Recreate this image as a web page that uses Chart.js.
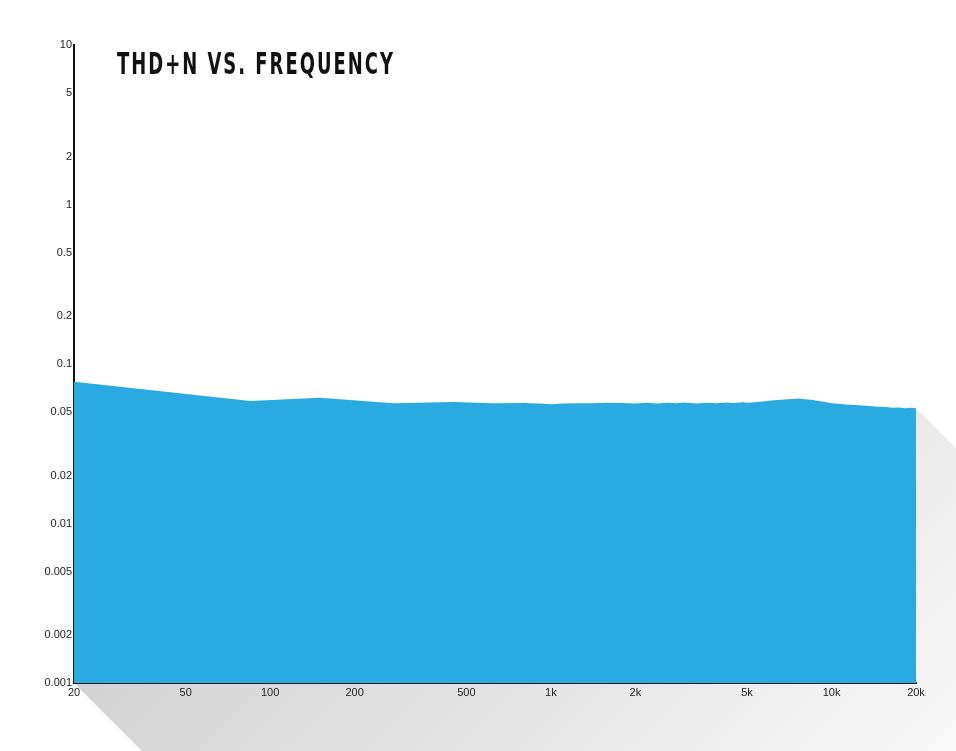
<!DOCTYPE html>
<html lang="en">
<head>
<meta charset="UTF-8" />
<title>THD+N vs. Frequency</title>
<script src="https://cdn.jsdelivr.net/npm/chart.js@4.4.0/dist/chart.umd.min.js"></script>
<style>
html,body{margin:0;padding:0;background:#fff}
#wrap{position:relative;width:956px;height:751px;overflow:hidden}
#title{position:absolute;left:117px;top:46px;margin:0;white-space:nowrap;
  font-family:"DejaVu Sans Condensed","DejaVu Sans",sans-serif;font-weight:bold;
  font-size:30px;letter-spacing:3px;color:#111;transform:scaleX(.665);transform-origin:left top}
canvas{position:absolute;left:0;top:0}
</style>
</head>
<body>
<div id="wrap">
  <canvas id="thd" width="956" height="751"></canvas>
  <h1 id="title">THD+N VS. FREQUENCY</h1>
</div>
<script>
/* ---------- data ---------- */
const FREQ = [20, 85, 150, 275, 450, 620, 800, 900, 1000, 1100, 1250, 1400, 1600, 1800,
  2000, 2200, 2400, 2600, 2800, 3000, 3300, 3600, 3900, 4200, 4500, 4800, 5100, 5400,
  5700, 6000, 6400, 6800, 7200, 7600, 8000, 8500, 9000, 9500, 10000, 10600, 11200, 11800,
  12500, 13300, 14000, 14800, 15600, 16500, 17400, 18300, 19200, 20000];
const THDN = [0.0775, 0.0586, 0.0615, 0.0567, 0.0578, 0.0568, 0.0570, 0.0566, 0.0559, 0.0566,
  0.0568, 0.0567, 0.0572, 0.0570, 0.0566, 0.0571, 0.0565, 0.0572, 0.0567, 0.0573, 0.0566,
  0.0571, 0.0568, 0.0574, 0.0569, 0.0575, 0.0572, 0.0578, 0.0583, 0.0588, 0.0594, 0.0599,
  0.0604, 0.0607, 0.0602, 0.0596, 0.0586, 0.0577, 0.0568, 0.0563, 0.0558, 0.0556, 0.0551,
  0.0547, 0.0543, 0.0540, 0.0537, 0.0531, 0.0534, 0.0527, 0.0531, 0.0528];

const X_TICKS  = [20, 50, 100, 200, 500, 1000, 2000, 5000, 10000, 20000];
const X_LABELS = ['20','50','100','200','500','1k','2k','5k','10k','20k'];
const Y_TICKS  = [0.001, 0.002, 0.005, 0.01, 0.02, 0.05, 0.1, 0.2, 0.5, 1, 2, 5, 10];
const Y_LABELS = ['0.001','0.002','0.005','0.01','0.02','0.05','0.1','0.2','0.5','1','2','5','10'];

/* ---------- long grey shadow behind the plot ---------- */
const shadow = {
  id:'shadow',
  beforeDraw(chart){
    const {ctx, chartArea:a} = chart;
    const pts = chart.getDatasetMeta(0).data;
    const yr = pts[pts.length-1].y, L = 900;
    // brightness grows along the shadow direction (down-right)
    const g = ctx.createLinearGradient(a.left, a.bottom, a.left+480, a.bottom+480);
    g.addColorStop(0, '#d2d2d2');
    g.addColorStop(1, '#f9f9f9');
    ctx.save();
    ctx.fillStyle = g;
    ctx.beginPath();
    ctx.moveTo(a.left, a.bottom);
    ctx.lineTo(a.left+L, a.bottom+L);
    ctx.lineTo(a.right+L, yr+L);
    ctx.lineTo(a.right, yr);
    ctx.closePath();
    ctx.fill();
    ctx.restore();
  }
};

const tickFont = {family:'"Liberation Sans", Arial, sans-serif', size:11};

new Chart(document.getElementById('thd'), {
  type:'line',
  data:{datasets:[{
    data:FREQ.map((f,i)=>({x:f, y:THDN[i]})),
    backgroundColor:'#29abe2', borderWidth:0, pointRadius:0, tension:0, fill:'start'
  }]},
  options:{
    responsive:false, animation:false, events:[],
    layout:{padding:{top:45, right:40, left:0, bottom:0}},
    plugins:{legend:{display:false}, tooltip:{enabled:false}},
    scales:{
      x:{
        type:'logarithmic', min:20, max:20000,
        afterBuildTicks:s=>{s.ticks = X_TICKS.map(v=>({value:v}));},
        afterFit:s=>{s.height = 68;},
        grid:{display:false, drawTicks:false, tickLength:0},
        border:{display:true, color:'#222', width:2},
        ticks:{autoSkip:false, maxRotation:0, padding:3, color:'#222', font:tickFont,
          callback:(v)=>X_LABELS[X_TICKS.indexOf(v)]}
      },
      y:{
        type:'logarithmic', min:0.001, max:10,
        afterBuildTicks:s=>{s.ticks = Y_TICKS.map(v=>({value:v}));},
        afterFit:s=>{s.width = 74;},
        grid:{display:false, drawTicks:false, tickLength:0},
        border:{display:true, color:'#111', width:2},
        ticks:{autoSkip:false, padding:2, color:'#222', font:tickFont,
          callback:(v)=>Y_LABELS[Y_TICKS.indexOf(v)]}
      }
    }
  },
  plugins:[shadow]
});
</script>
</body>
</html>
